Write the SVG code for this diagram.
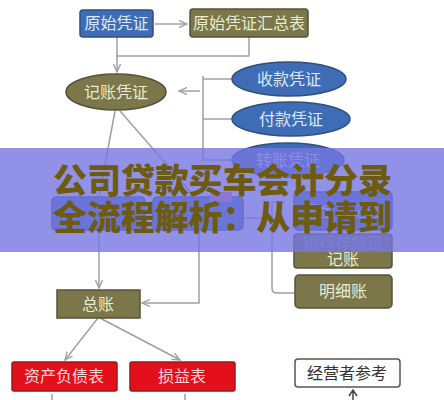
<svg xmlns="http://www.w3.org/2000/svg" width="444" height="400" viewBox="0 0 444 400">
<defs>
<style>
.t{font-family:"Noto Sans CJK SC","Noto Sans",sans-serif;font-size:16px;text-anchor:middle;}
.blue{fill:#3e6db5;stroke:#2f4f7e;stroke-width:1.5;}
.olive{fill:#7b774b;stroke:#55523a;stroke-width:1.5;}
.red{fill:#e3101b;stroke:#a0161a;stroke-width:1.5;}
.lt{fill:#e8ecd0;}
.lb{fill:#dfe8f6;}
.lr{fill:#ffd6d6;}
.c{fill:none;stroke:#a0a0a4;stroke-width:1.5;}
.title{font-family:"Noto Sans CJK SC","Noto Sans",sans-serif;font-size:34px;font-weight:900;fill:#6d5b12;}
</style>
<marker id="ah" viewBox="0 0 10 10" refX="9" refY="5" markerWidth="6" markerHeight="6" orient="auto"><path d="M0,1 L9,5 L0,9" fill="none" stroke="#a0a0a4" stroke-width="1.5"/></marker>
</defs>
<rect width="444" height="400" fill="#ffffff"/>
<g id="connectors">
<path class="c" d="M155,24 H187" marker-end="url(#ah)"/>
<path class="c" d="M117,37 V72" marker-end="url(#ah)"/>
<path class="c" d="M249,37 V56 H117"/>
<path class="c" d="M203,76 V160 H232"/>
<path class="c" d="M203,79 H232"/>
<path class="c" d="M203,119 H232"/>
<path class="c" d="M200,91 H179" marker-end="url(#ah)"/>
<path class="c" d="M115,111 L99,197"/>
<path class="c" d="M120,111 L195,197"/>
<path class="c" d="M99,230 V288" marker-end="url(#ah)"/>
<path class="c" d="M199,230 V303 H142" marker-end="url(#ah)"/>
<path class="c" d="M243,218 H272"/>
<path class="c" d="M285,202 H272 V288 Q272,293 277,293 H295"/>
<path class="c" d="M98,318 L65,360" marker-end="url(#ah)"/>
<path class="c" d="M100,318 L180,360" marker-end="url(#ah)"/>
<path class="c" d="M52,394 V400"/>
<path class="c" d="M185,394 V400"/>
<path d="M353,400 V391 M349,396 L353,390 L357,396" fill="none" stroke="#444" stroke-width="1.5"/>
</g>
<g id="n-yuanshi"><rect class="blue" x="80" y="10" width="73" height="27" rx="3"/><text class="t lb" x="116.5" y="29">原始凭证</text></g>
<g id="n-huizong"><rect class="olive" x="190" y="9" width="118" height="28" rx="3"/><text class="t lt" x="249" y="29">原始凭证汇总表</text></g>
<g id="n-jizhang"><ellipse class="olive" cx="116" cy="92" rx="50" ry="18"/><text class="t lt" x="116" y="98">记账凭证</text></g>
<g id="n-shoukuan"><ellipse class="blue" cx="289" cy="79" rx="57" ry="17"/><text class="t lb" x="289" y="85">收款凭证</text></g>
<g id="n-fukuan"><ellipse class="blue" cx="291" cy="119" rx="59" ry="17"/><text class="t lb" x="291" y="125">付款凭证</text></g>
<g id="n-zhuanzhang"><ellipse class="blue" cx="288" cy="160" rx="56" ry="17"/><text class="t lb" x="288" y="166">转账凭证</text></g>
<g id="n-left"><rect class="blue" x="52" y="197" width="93" height="33" rx="4"/></g>
<g id="n-mid"><rect class="blue" x="153" y="197" width="90" height="33" rx="4"/><rect x="210" y="192" width="22" height="10" fill="#e07ab0"/></g>
<g id="n-xianjin"><rect class="blue" x="294" y="192" width="98" height="38" rx="4"/><text class="t lb" x="343" y="217">现金日记账</text></g>
<g id="n-yinhang"><rect class="olive" x="294" y="234" width="98" height="34" rx="3"/><text class="t" x="343" y="249" style="fill:#9aa0b4">银行存款日</text><text class="t lt" x="343" y="265">记账</text></g>
<g id="n-mingxi"><rect class="olive" x="295" y="275" width="97" height="33" rx="4"/><text class="t lt" x="343" y="297">明细账</text></g>
<g id="n-zongzhang"><rect class="olive" x="57" y="290" width="83" height="28"/><text class="t lt" x="98" y="310">总账</text></g>
<g id="n-zichan"><rect class="red" x="12" y="362" width="105" height="29" rx="2"/><text class="t lr" x="64" y="382">资产负债表</text></g>
<g id="n-sunyi"><rect class="red" x="130" y="362" width="105" height="29" rx="2"/><text class="t lr" x="182" y="382">损益表</text></g>
<g id="n-jingying"><rect x="295" y="359" width="105" height="28" rx="3" fill="#ffffff" stroke="#555" stroke-width="1.5"/><text class="t" x="347" y="379" style="fill:#333">经营者参考</text></g>
<g id="banner">
<rect x="0" y="148" width="444" height="104" fill="#7676e2" opacity="0.8"/>
<text class="title" x="53" y="193" textLength="339">公司贷款买车会计分录</text>
<text class="title" x="53" y="230" textLength="339">全流程解析：从申请到</text>
</g>
</svg>
